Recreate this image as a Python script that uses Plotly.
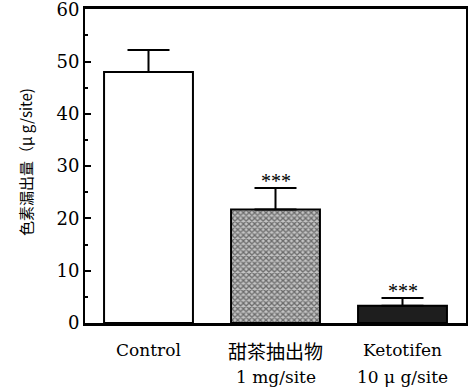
import plotly.graph_objects as go

categories = ["Control", "甜茶抽出物", "Ketotifen"]
sublabels = ["", "1 mg/site", "10 μ g/site"]
means = [48.0, 21.7, 3.3]
errors = [4.2, 4.1, 1.5]
stars = ["", "***", "***"]
y_title = "色素漏出量（μ g/site)"
y_ticks = [0, 10, 20, 30, 40, 50, 60]

fills = ["white", "#808080", "#1e1e1e"]
patterns = [dict(shape=""), dict(shape="x", size=4, solidity=0.55, fgcolor="#111111", bgcolor="#c4c4c4"), dict(shape="")]

L, R, T, B, W, H = 85, 2, 9, 67, 468, 390
serif = "DejaVu Serif, Noto Sans CJK TC, serif"

fig = go.Figure()
for i, (c, m, e) in enumerate(zip(categories, means, errors)):
    fig.add_trace(go.Bar(
        x=[c], y=[m], width=0.7,
        marker=dict(color=fills[i], line=dict(color="black", width=2), pattern=patterns[i]),
        error_y=dict(type="data", array=[e], arrayminus=[0], symmetric=False,
                     color="black", thickness=2, width=21),
        showlegend=False,
    ))

for c, m, e, s in zip(categories, means, errors, stars):
    if s:
        fig.add_annotation(x=c, y=m + e, text=s, showarrow=False, yanchor="bottom", yshift=-6,
                           font=dict(family="Liberation Serif", size=20, color="black"))

for c, sub in zip(categories, sublabels):
    is_cjk = any(ord(ch) > 0x2E80 for ch in c)
    fig.add_annotation(x=c, y=0, yref="y", text=c, showarrow=False, yanchor="middle", yshift=-27,
                       font=dict(family=("Noto Sans CJK TC" if is_cjk else serif), size=(19 if is_cjk else 17), color="black"))
    if sub:
        fig.add_annotation(x=c, y=0, yref="y", text=sub, showarrow=False, yanchor="middle", yshift=-54,
                           font=dict(family=serif, size=17, color="black"))

pw, ph = W - L - R, H - T - B
fig.add_annotation(text=y_title, textangle=-90, showarrow=False,
                   xref="paper", yref="paper", x=(25 - L) / pw, y=(H - B - 162) / ph,
                   xanchor="center", yanchor="middle",
                   font=dict(family="Noto Sans CJK TC, DejaVu Serif", size=15, color="black"))

fig.update_layout(
    width=W, height=H,
    margin=dict(l=L, r=R, t=T, b=B),
    plot_bgcolor="white", paper_bgcolor="white",
    font=dict(family=serif, color="black", size=17),
)
fig.update_xaxes(
    type="category", range=[-0.5, 2.5], automargin=False,
    showline=True, linecolor="black", linewidth=3, mirror=True,
    ticks="", showgrid=False, showticklabels=False,
)
fig.update_yaxes(
    range=[0, 60.05], tickvals=y_ticks, automargin=False, ticklabeloverflow="allow",
    showline=True, linecolor="black", linewidth=2, mirror=True,
    ticks="inside", ticklen=6, tickwidth=2, tickcolor="black",
    minor=dict(dtick=5, ticks="inside", ticklen=3, tickwidth=2, tickcolor="black"),
    showgrid=False, zeroline=False,
    tickfont=dict(family=serif, size=18, color="black"),
)
fig.write_html("out.html", config={"displayModeBar": False},
               post_script="document.body.style.margin='0px';")
